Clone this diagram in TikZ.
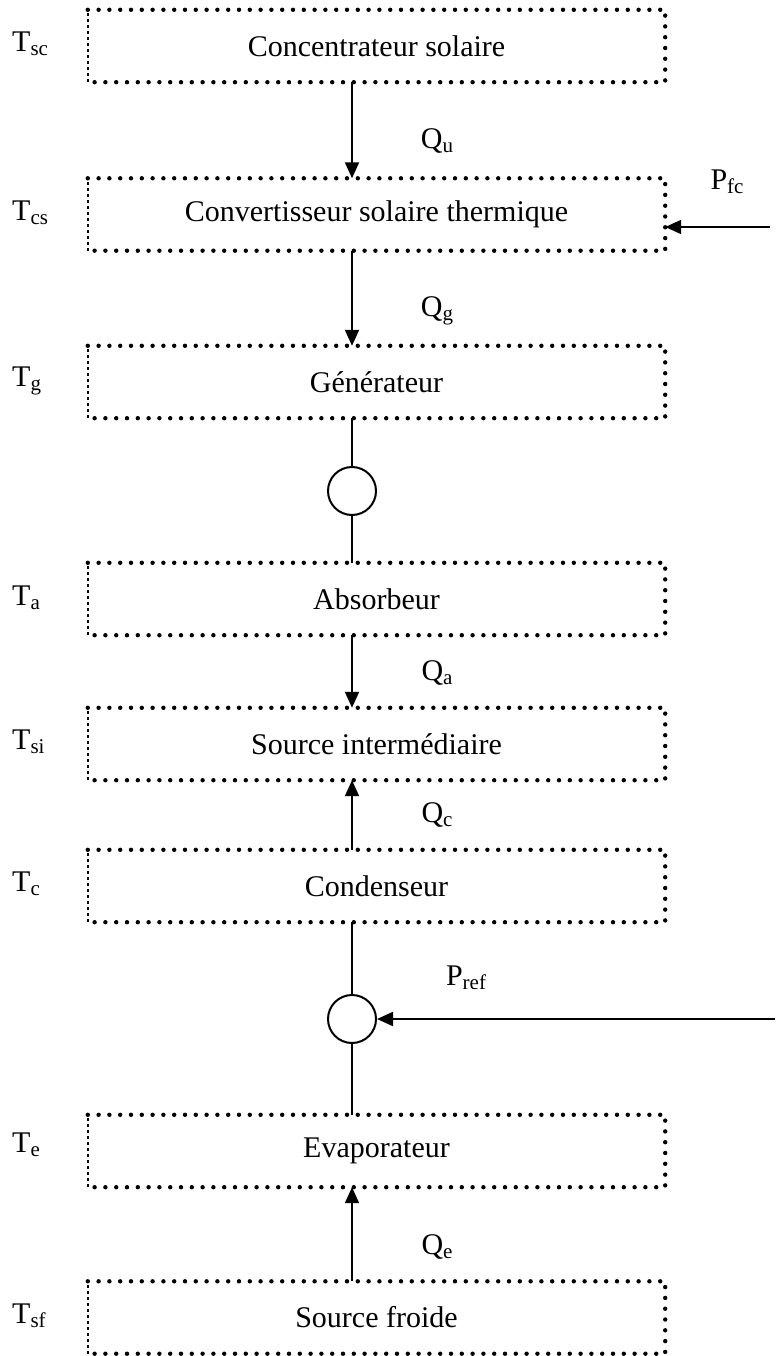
\documentclass[tikz,border=0pt]{standalone}
\usepackage{fontspec}
\setmainfont{Liberation Serif}
\usetikzlibrary{arrows.meta}
\newcommand{\lbl}[2]{#1\raisebox{-0.12em}{\fontsize{21}{21}\selectfont #2}}
\tikzset{
  stagebox/.style={minimum width=577pt, minimum height=72pt, inner sep=0pt, font=\fontsize{30}{34}\selectfont},
  dotline/.style={line width=4.4pt, line cap=round, dash pattern=on 0pt off 10.8pt},
  dashline/.style={line width=1.6pt, dash pattern=on 3pt off 3pt},
  txt/.style={font=\fontsize{30}{34}\selectfont, inner sep=0pt},
  arr/.style={line width=2pt, -{Triangle[length=16pt,width=14pt]}},
  link/.style={line width=2pt},
  ring/.style={circle, draw, line width=2pt, minimum size=48pt, inner sep=0pt}
}
\newcommand{\stageframe}[1]{%
  \draw[dotline] (#1.north west) -- (#1.north east) -- (#1.south east) -- (#1.south west);
  \draw[dashline] (#1.south west) -- (#1.north west);}
\begin{document}
\begin{tikzpicture}[x=1pt,y=-1pt]
\useasboundingbox (0,0) rectangle (776,1356);
% stages
\node[stagebox] (b1) at (376.5,46) {Concentrateur solaire};
\node[stagebox] (b2) at (376.5,214.5) {Convertisseur solaire thermique};
\node[stagebox] (b3) at (376.5,382) {Générateur};
\node[stagebox] (b4) at (376.5,599) {Absorbeur};
\node[stagebox] (b5) at (376.5,744) {Source intermédiaire};
\node[stagebox] (b6) at (376.5,886) {Condenseur};
\node[stagebox] (b7) at (376.5,1151) {Evaporateur};
\node[stagebox] (b8) at (376.5,1317.5) {Source froide};
\foreach \b in {b1,b2,b3,b4,b5,b6,b7,b8} {\stageframe{\b}}
% temperature labels
\node[txt, anchor=west] (t1) at (12,44) {\lbl{T}{sc}};
\node[txt, anchor=west] (t2) at (12,213) {\lbl{T}{cs}};
\node[txt, anchor=west] (t3) at (12,381) {\lbl{T}{g}};
\node[txt, anchor=west] (t4) at (12,598) {\lbl{T}{a}};
\node[txt, anchor=west] (t5) at (12,742) {\lbl{T}{si}};
\node[txt, anchor=west] (t6) at (12,884) {\lbl{T}{c}};
\node[txt, anchor=west] (t7) at (12,1145) {\lbl{T}{e}};
\node[txt, anchor=west] (t8) at (12,1316) {\lbl{T}{sf}};
% axis
\coordinate (ax) at (352,0);
% circles
\node[ring] (c1) at (352,491) {};
\node[ring] (c2) at (352,1019) {};
% heat flows
\draw[arr] (b1.south -| ax) -- (b2.north -| ax);
\draw[arr] (b2.south -| ax) -- (b3.north -| ax);
\draw[link] (b3.south -| ax) -- (c1.north);
\draw[link] (c1.south) -- (b4.north -| ax);
\draw[arr] (b4.south -| ax) -- (b5.north -| ax);
\draw[arr] (b6.north -| ax) -- (b5.south -| ax);
\draw[link] (b6.south -| ax) -- (c2.north);
\draw[link] (c2.south) -- (b7.north -| ax);
\draw[arr] (b8.north -| ax) -- (b7.south -| ax);
% power inputs
\coordinate (pfc) at (770,227);
\draw[arr] (pfc) -- (pfc -| b2.east);
\coordinate (pref) at (775,1019);
\draw[arr] (pref) -- (c2.east);
% flow labels
\node[txt] (qu) at (437,141) {\lbl{Q}{u}};
\node[txt] (qg) at (437,311) {\lbl{Q}{g}};
\node[txt] (qa) at (437,673) {\lbl{Q}{a}};
\node[txt] (qc) at (437,815) {\lbl{Q}{c}};
\node[txt] (qe) at (437,1247) {\lbl{Q}{e}};
\node[txt] (pf) at (727,182) {\lbl{P}{fc}};
\node[txt] (pr) at (466,978) {\lbl{P}{ref}};
\end{tikzpicture}
\end{document}
